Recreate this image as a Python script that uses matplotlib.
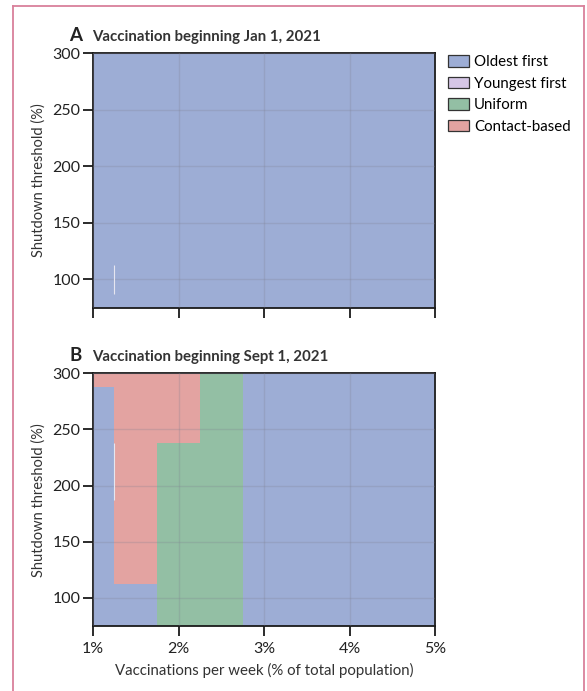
import numpy as np
import matplotlib
matplotlib.use("Agg")
import matplotlib.pyplot as plt
from matplotlib.colors import ListedColormap
from matplotlib.patches import Patch
from matplotlib.lines import Line2D

plt.rcParams['font.family'] = ['Lato', 'DejaVu Sans']

# strategies and colours
strategies = ["Oldest first", "Youngest first", "Uniform", "Contact-based"]
colors = ["#9dadd5", "#d5c6e6", "#93bfa4", "#e3a3a1"]

# grid edges
x_edges = np.arange(1.0, 5.0001, 0.25)
y_edges = np.arange(75, 300.001, 12.5)

# best strategy per cell, rows from top (300) to bottom (75)
# 0 oldest, 1 youngest, 2 uniform, 3 contact
best_a = [[0] * 16 for _ in range(18)]

best_b = (
    [[3, 3, 3, 3, 3, 2, 2] + [0] * 9] * 1 +
    [[0, 3, 3, 3, 3, 2, 2] + [0] * 9] * 4 +
    [[0, 3, 3, 2, 2, 2, 2] + [0] * 9] * 10 +
    [[0, 0, 0, 2, 2, 2, 2] + [0] * 9] * 3
)

# thin light seams seen in the original render (x, y from, y to)
seams_a = [(1.25, 87.5, 112.5)]
seams_b = [(1.25, 187.5, 237.5)]

titles = ["Vaccination beginning Jan 1, 2021", "Vaccination beginning Sept 1, 2021"]
letters = ["A", "B"]

fig = plt.figure(figsize=(5.87, 6.91), dpi=100)
cmap = ListedColormap(colors)

ax_a = fig.add_axes([0.1584, 0.5547, 0.5834, 0.3682])
ax_b = fig.add_axes([0.1584, 0.0941, 0.5834, 0.3657])

for ax, best, seams, letter, title in zip([ax_a, ax_b], [best_a, best_b], [seams_a, seams_b], letters, titles):
    grid = np.array(best)[::-1]
    ax.pcolormesh(x_edges, y_edges, grid, cmap=cmap, vmin=-0.5, vmax=3.5, shading='flat')
    for sx, y0, y1 in seams:
        ax.vlines(sx, y0, y1, color="#e6e6f0", lw=0.8, zorder=3)
    ax.set_xlim(1, 5)
    ax.set_ylim(75, 300)
    ax.set_xticks([1, 2, 3, 4, 5])
    ax.set_yticks([100, 150, 200, 250, 300])
    ax.grid(True, color="#7f7f90", alpha=0.25, lw=1.0)
    ax.set_axisbelow(False)
    for s in ax.spines.values():
        s.set_linewidth(1.3)
        s.set_color("#1a1a1a")
    ax.tick_params(direction='out', length=7.5, width=1.3, color="#1a1a1a", labelsize=11.5, labelcolor="#222222", pad=1.5)
    ax.tick_params(axis='x', pad=4)
    ax.set_ylabel("Shutdown threshold (%)", fontsize=10.5, color="#333333", labelpad=5)
    ax.text(-0.032, 1.035, letter, transform=ax.transAxes, fontsize=13.5, fontweight='bold', color="#222222", va='bottom', ha='right')
    ax.text(-0.002, 1.035, title, transform=ax.transAxes, fontsize=10.8, fontweight='bold', color="#333333", va='bottom', ha='left')

ax_a.set_xticklabels([])
ax_b.set_xticklabels(["1%", "2%", "3%", "4%", "5%"])
ax_b.set_xlabel("Vaccinations per week (% of total population)", fontsize=10.8, color="#333333", labelpad=5)

handles = [Patch(facecolor=c, edgecolor="#333333", linewidth=0.9) for c in colors]
fig.legend(handles, strategies, loc='upper left', bbox_to_anchor=(0.763, 0.92), frameon=False,
           fontsize=10.8, handlelength=1.4, handleheight=0.8, handletextpad=0.35, labelspacing=0.5,
           borderaxespad=0, borderpad=0)

# pink frame (left, top, right)
fx0, fx1, fy = 13 / 587, 584 / 587, 1 - 6 / 691
frame_col = "#d9809b"
fig.add_artist(Line2D([fx0, fx0], [0, fy], transform=fig.transFigure, color=frame_col, lw=1.3))
fig.add_artist(Line2D([fx0, fx1], [fy, fy], transform=fig.transFigure, color=frame_col, lw=1.3))
fig.add_artist(Line2D([fx1, fx1], [0, fy], transform=fig.transFigure, color=frame_col, lw=1.3))

fig.savefig("out.png", dpi=100)
